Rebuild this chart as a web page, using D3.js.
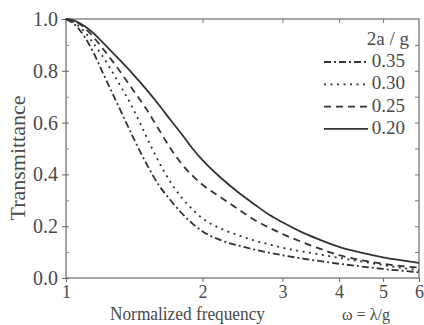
<!DOCTYPE html>
<html><head><meta charset="utf-8">
<script src="https://cdn.jsdelivr.net/npm/d3@7"></script>
<style>
html,body{margin:0;padding:0;background:#fff;}
svg{display:block;}
text{font-family:"Liberation Serif","Times New Roman",serif;fill:#4a4a4a;}
</style></head>
<body><svg id="chart" width="424" height="325"></svg>
<script>
// ---- data ----
const freqs = [1.0,1.05,1.1,1.15,1.2,1.3,1.4,1.5,1.6,1.7,1.8,1.9,2.0,2.2,2.4,2.6,2.8,3.0,3.3,3.6,4.0,4.5,5.0,5.5,6.0];
const t035 = [1.0,.975,.93,.87,.80,.67,.55,.445,.36,.30,.25,.21,.18,.145,.125,.11,.098,.088,.076,.066,.055,.044,.035,.028,.022];
const t030 = [1.0,.982,.95,.905,.86,.76,.66,.55,.45,.37,.31,.265,.23,.19,.165,.145,.13,.117,.103,.092,.078,.063,.05,.039,.03];
const t025 = [1.0,.99,.965,.93,.89,.81,.73,.655,.575,.50,.44,.395,.36,.31,.265,.225,.195,.17,.14,.115,.088,.068,.055,.046,.04];
const t020 = [1.0,.992,.972,.945,.913,.85,.79,.73,.67,.61,.555,.50,.455,.385,.33,.285,.245,.215,.178,.15,.12,.097,.08,.068,.058];
const seriesNames = ["0.35","0.30","0.25","0.20"];
const seriesVals = [t035,t030,t025,t020];
const xTicks = [1,2,3,4,5,6];
const yTicks = [0,0.2,0.4,0.6,0.8,1.0];
const yMinor = [0.1,0.3,0.5,0.7,0.9];
const legendTitle = "2a / g";
const xTitle = "Normalized frequency";
const xUnit = "\u03c9 = \u03bb/g";
const yTitle = "Transmittance";

// ---- layout ----
const L=66,R=419,T=19,B=278;
const dashes = {"0.35":"7,3,2,3","0.30":"2,4.5","0.25":"7,5","0.20":null};
const lineCol="#333";

const svg=d3.select("#chart");
const x=d3.scaleLog().domain([1,6]).range([L,R]);
const y=d3.scaleLinear().domain([0,1]).range([B,T]);

// frame
svg.append("rect").attr("x",L).attr("y",T).attr("width",R-L).attr("height",B-T)
  .attr("fill","none").attr("stroke","#6a6a6a").attr("stroke-width",1.2);

// bottom axis
const gb=svg.append("g").attr("transform",`translate(0,${B})`)
  .call(d3.axisBottom(x).tickValues(xTicks).tickFormat(d3.format("d")).tickSize(4).tickPadding(3));
gb.select(".domain").remove();
gb.selectAll("line").attr("stroke","#666");
gb.selectAll("text").style("font-size","18px").attr("fill","#4a4a4a").attr("font-family",null);
// top ticks (inward)
const gt=svg.append("g").attr("transform",`translate(0,${T})`)
  .call(d3.axisTop(x).tickValues(xTicks.slice(1,-1)).tickFormat("").tickSize(-4));
gt.select(".domain").remove(); gt.selectAll("line").attr("stroke","#777");

// left axis
const gl=svg.append("g").attr("transform",`translate(${L},0)`)
  .call(d3.axisLeft(y).tickValues(yTicks).tickFormat(d3.format(".1f")).tickSize(4).tickPadding(4));
gl.select(".domain").remove();
gl.selectAll("line").attr("stroke","#666").attr("x2",-4).attr("x1",3);
gl.selectAll("text").style("font-size","20px").attr("fill","#4a4a4a").attr("font-family",null);
const glm=svg.append("g").attr("transform",`translate(${L},0)`)
  .call(d3.axisLeft(y).tickValues(yMinor).tickFormat("").tickSize(-3));
glm.select(".domain").remove(); glm.selectAll("line").attr("stroke","#888");
// right ticks (inward)
const gr=svg.append("g").attr("transform",`translate(${R},0)`)
  .call(d3.axisRight(y).tickValues(yTicks.slice(1,-1).concat(yMinor)).tickFormat("").tickSize(-4));
gr.select(".domain").remove(); gr.selectAll("line").attr("stroke","#777");

// curves
const line=d3.line().x(d=>x(d[0])).y(d=>y(d[1])).curve(d3.curveMonotoneX);
seriesNames.forEach((nm,i)=>{
  const pts=freqs.map((f,j)=>[f,seriesVals[i][j]]);
  svg.append("path").attr("d",line(pts)).attr("fill","none")
    .attr("stroke",lineCol).attr("stroke-width",1.8)
    .attr("stroke-dasharray",dashes[nm]);
});

// legend
svg.append("text").attr("x",409).attr("y",45).attr("text-anchor","end")
  .style("font-size","19px").text(legendTitle);
seriesNames.forEach((nm,i)=>{
  const by=67+i*22.3;
  svg.append("line").attr("x1",324).attr("x2",368).attr("y1",by-5).attr("y2",by-5)
    .attr("stroke",lineCol).attr("stroke-width",1.8).attr("stroke-dasharray",dashes[nm]);
  svg.append("text").attr("x",405).attr("y",by).attr("text-anchor","end")
    .style("font-size","19px").text(nm);
});

// titles
svg.append("text").attr("x",110).attr("y",320).attr("textLength",155)
  .attr("lengthAdjust","spacingAndGlyphs").style("font-size","19px").text(xTitle);
svg.append("text").attr("x",342).attr("y",320).attr("textLength",48)
  .attr("lengthAdjust","spacingAndGlyphs").style("font-size","17px").text(xUnit);
svg.append("text").attr("transform","translate(25,158) rotate(-90)").attr("text-anchor","middle")
  .style("font-size","22px").text(yTitle);
</script></body></html>
